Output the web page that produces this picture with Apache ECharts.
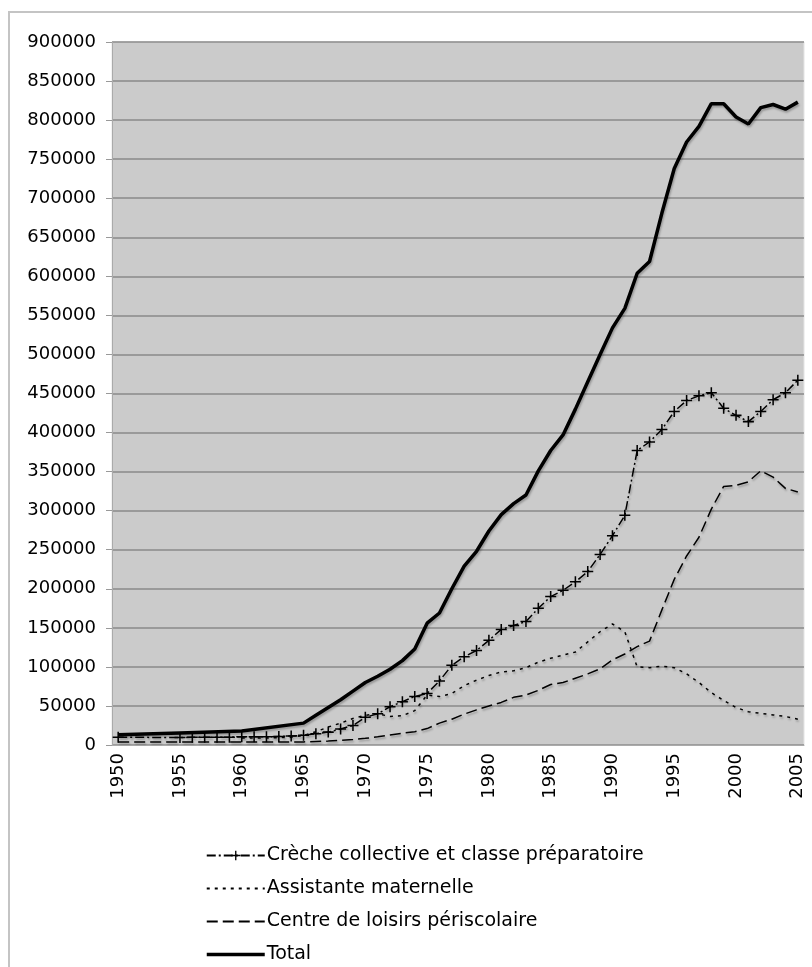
<!DOCTYPE html>
<html>
<head>
<meta charset="utf-8">
<script src="https://cdn.jsdelivr.net/npm/echarts@6/dist/echarts.min.js"></script>
<style>
  html, body { margin: 0; padding: 0; background: #fff; }
  #chart { width: 812px; height: 967px; }
</style>
</head>
<body>
<div id="chart"></div>
<script>
// années 1950 → 2005
const years = [];
for (let y = 1950; y <= 2005; y++) years.push(String(y));

const nameCreche = 'Crèche collective et classe préparatoire';
const nameAssist = 'Assistante maternelle';
const nameCentre = 'Centre de loisirs périscolaire';
const nameTotal = 'Total';

const creche = [
  10000, null, null, null, null, 9500, 10000, 10000, 10000, 10000,
  10500, 10500, 10500, 11000, 11500, 12500, 14500, 16500, 20500, 25000,
  35500, 40000, 49000, 55500, 62000, 66000, 82000, 102000, 113000, 121000,
  134000, 148000, 153000, 158000, 175000, 190000, 198000, 209000, 222000, 244000,
  268000, 294000, 377000, 388000, 404000, 427000, 441000, 447000, 451000, 431000,
  422000, 414000, 427000, 442000, 451000, 467000
];
const assistante = [
  null, null, null, null, null, null, null, null, null, null,
  9000, 9000, 9000, 9500, 10000, 12000, 17000, 23000, 28000, 34000,
  38000, 40000, 36500, 37500, 44000, 64000, 62000, 66000, 76000, 83000,
  89000, 93500, 95000, 99000, 106000, 111000, 115000, 119000, 132000, 145000,
  155000, 145000, 100000, 99000, 101000, 99000, 91000, 80000, 67000, 57000,
  48000, 42600, 40500, 38500, 36500, 33000
];
const centre = [
  4000, null, null, null, null, 4000, null, null, null, null,
  4000, null, null, null, null, 4000, 4500, 5000, 6000, 7000,
  8500, 10500, 12800, 15000, 17000, 21000, 28000, 33000, 39500, 45000,
  50000, 54500, 61000, 64000, 70000, 77500, 80000, 85500, 91000, 97500,
  109000, 116500, 126000, 133000, 173000, 212000, 242000, 266000, 302000, 331000,
  332500, 337000, 351000, 343000, 328500, 324000
];
const total = [
  13000, null, null, null, null, 15500, null, null, null, null,
  18000, null, null, null, null, 28000, 38000, 48000, 58000, 69000,
  80000, 88000, 97000, 108000, 123000, 156000, 169000, 200000, 229000, 248000,
  274000, 295000, 309000, 320000, 351000, 377000, 397000, 430000, 465000, 500000,
  534000, 559000, 604000, 619000, 681000, 738000, 772000, 792000, 821000, 821000,
  804000, 795000, 816000, 820000, 814000, 823000
];

const font = 'DejaVu Sans';
const plus = 'path://M4.3,0H5.7V4.3H10V5.7H5.7V10H4.3V5.7H0V4.3H4.3Z';
const shadow = { shadowColor: 'rgba(0,0,0,0.25)', shadowOffsetX: 1, shadowOffsetY: 2, shadowBlur: 2 };
const noSymbol = { opacity: 0 };

const myChart = echarts.init(document.getElementById('chart'));
myChart.setOption({
  animation: false,
  backgroundColor: '#fff',
  graphic: [{
    type: 'rect',
    shape: { x: 9, y: 12, width: 900, height: 1000 },
    style: { fill: 'none', stroke: '#c4c4c4', lineWidth: 2 },
    z: -10
  }],
  grid: {
    left: 112, top: 42, right: 8, bottom: 222,
    show: true,
    backgroundColor: '#cbcbcb',
    borderColor: '#e4e4e4',
    borderWidth: 1
  },
  legend: {
    orient: 'vertical',
    left: 205,
    top: 846,
    height: 160,
    padding: 0,
    itemWidth: 58,
    itemHeight: 12,
    itemGap: 14,
    textStyle: { fontFamily: font, fontSize: 19, color: '#000', padding: [0, 0, 0, -3] },
    data: [
      { name: nameCreche },
      { name: nameAssist, itemStyle: noSymbol },
      { name: nameCentre, itemStyle: noSymbol },
      { name: nameTotal, itemStyle: noSymbol, lineStyle: { width: 3.5 } }
    ]
  },
  xAxis: {
    type: 'category',
    data: years,
    boundaryGap: true,
    axisLine: { lineStyle: { color: '#aaa', width: 1 } },
    axisTick: { interval: 0, length: 6, lineStyle: { color: '#999' } },
    axisLabel: {
      interval: 4,
      rotate: 90,
      margin: 8,
      fontFamily: font,
      fontSize: 18,
      color: '#000'
    },
    splitLine: { show: false }
  },
  yAxis: {
    type: 'value',
    min: 0,
    max: 900000,
    interval: 50000,
    axisLine: { show: true, lineStyle: { color: '#aaa' } },
    axisTick: { show: true, length: 6, lineStyle: { color: '#999' } },
    axisLabel: {
      fontFamily: font, fontSize: 18, color: '#000', margin: 16,
      formatter: (v) => String(v)
    },
    splitLine: { lineStyle: { color: '#8a8a8a', width: 1.5 } }
  },
  series: [
    {
      name: nameCreche,
      type: 'line',
      data: creche,
      connectNulls: true,
      symbol: plus,
      symbolSize: 11,
      showSymbol: true,
      showAllSymbol: true,
      itemStyle: { color: '#000' },
      lineStyle: Object.assign({ color: '#000', width: 1.5, type: [9, 3, 2, 3] }, shadow),
      z: 3
    },
    {
      name: nameAssist,
      type: 'line',
      data: assistante,
      connectNulls: true,
      symbol: 'none',
      itemStyle: { color: '#000' },
      lineStyle: Object.assign({ color: '#000', width: 1.5, type: [3, 5] }, shadow),
      z: 2
    },
    {
      name: nameCentre,
      type: 'line',
      data: centre,
      connectNulls: true,
      symbol: 'none',
      itemStyle: { color: '#000' },
      lineStyle: Object.assign({ color: '#000', width: 1.5, type: [11, 5] }, shadow),
      z: 2
    },
    {
      name: nameTotal,
      type: 'line',
      data: total,
      connectNulls: true,
      symbol: 'none',
      itemStyle: { color: '#000' },
      lineStyle: Object.assign({ color: '#000', width: 3.5, type: 'solid' }, shadow),
      z: 4
    }
  ]
});

window.onresize = function () {
  myChart.resize();
};
</script>
</body>
</html>
